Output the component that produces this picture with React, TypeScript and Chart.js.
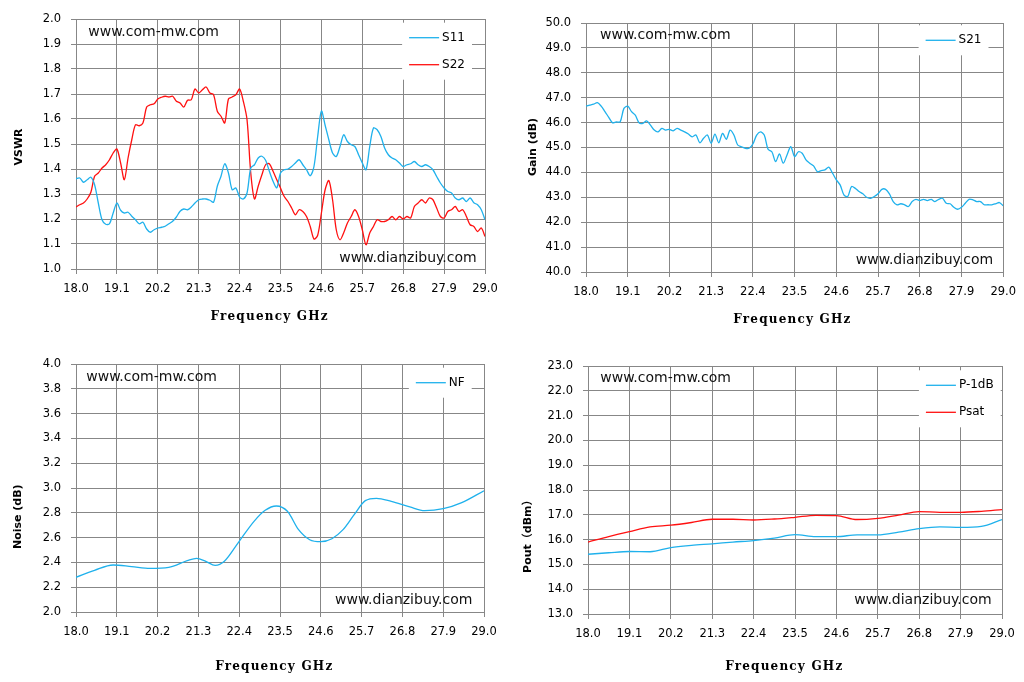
import { useEffect, useRef } from 'react'
import { Chart, registerables } from 'chart.js'

Chart.register(...registerables)

const BLUE = '#1fb1ec'
const RED = '#ff1010'
const GRID = '#878787'

const SITE_TOP = 'www.com-mw.com'
const SITE_BOTTOM = 'www.dianzibuy.com'
const X_TITLE = 'Frequency GHz'

// tick labels on every frequency axis
const freqTicks = [18.0, 19.1, 20.2, 21.3, 22.4, 23.5, 24.6, 25.7, 26.8, 27.9, 29.0]

// swept measurement frequencies (GHz)
const sweepFreq = [
  18.0, 18.1, 18.2, 18.3, 18.4, 18.5, 18.6, 18.7, 18.8, 18.9,
  19.0, 19.1, 19.2, 19.3, 19.4, 19.5, 19.6, 19.7, 19.8, 19.9,
  20.0, 20.1, 20.2, 20.3, 20.4, 20.5, 20.6, 20.7, 20.8, 20.9,
  21.0, 21.1, 21.2, 21.3, 21.4, 21.5, 21.6, 21.7, 21.8, 21.9,
  22.0, 22.1, 22.2, 22.3, 22.4, 22.5, 22.6, 22.7, 22.8, 22.9,
  23.0, 23.1, 23.2, 23.3, 23.4, 23.5, 23.6, 23.7, 23.8, 23.9,
  24.0, 24.1, 24.2, 24.3, 24.4, 24.5, 24.6, 24.7, 24.8, 24.9,
  25.0, 25.1, 25.2, 25.3, 25.4, 25.5, 25.6, 25.7, 25.8, 25.9,
  26.0, 26.1, 26.2, 26.3, 26.4, 26.5, 26.6, 26.7, 26.8, 26.9,
  27.0, 27.1, 27.2, 27.3, 27.4, 27.5, 27.6, 27.7, 27.8, 27.9,
  28.0, 28.1, 28.2, 28.3, 28.4, 28.5, 28.6, 28.7, 28.8, 28.9,
  29.0,
]

const s11 = [
  1.361, 1.364, 1.347, 1.357, 1.367, 1.337, 1.264, 1.197, 1.179, 1.181,
  1.224, 1.264, 1.235, 1.224, 1.227, 1.211, 1.197, 1.181, 1.187, 1.160,
  1.147, 1.157, 1.164, 1.167, 1.171, 1.181, 1.191, 1.208, 1.231, 1.240,
  1.237, 1.248, 1.264, 1.277, 1.280, 1.280, 1.275, 1.267, 1.331, 1.371,
  1.421, 1.384, 1.317, 1.324, 1.288, 1.280, 1.304, 1.404, 1.417, 1.444,
  1.451, 1.435, 1.391, 1.351, 1.325, 1.384, 1.397, 1.400, 1.410, 1.424,
  1.437, 1.417, 1.397, 1.373, 1.410, 1.530, 1.632, 1.575, 1.517, 1.464,
  1.450, 1.490, 1.537, 1.510, 1.497, 1.490, 1.457, 1.424, 1.397, 1.490,
  1.564, 1.557, 1.530, 1.484, 1.457, 1.444, 1.437, 1.424, 1.410, 1.417,
  1.421, 1.430, 1.417, 1.410, 1.417, 1.410, 1.397, 1.370, 1.344, 1.324,
  1.310, 1.304, 1.284, 1.277, 1.284, 1.270, 1.284, 1.265, 1.257, 1.237,
  1.197,
]

const s22 = [
  1.248, 1.257, 1.264, 1.280, 1.307, 1.371, 1.384, 1.404, 1.417, 1.437,
  1.464, 1.480, 1.424, 1.357, 1.444, 1.517, 1.577, 1.573, 1.584, 1.648,
  1.657, 1.661, 1.680, 1.687, 1.691, 1.688, 1.691, 1.671, 1.664, 1.648,
  1.675, 1.677, 1.720, 1.704, 1.717, 1.728, 1.704, 1.697, 1.631, 1.611,
  1.584, 1.680, 1.688, 1.697, 1.720, 1.671, 1.597, 1.384, 1.280, 1.331,
  1.377, 1.417, 1.421, 1.391, 1.357, 1.324, 1.290, 1.270, 1.244, 1.217,
  1.237, 1.230, 1.210, 1.170, 1.120, 1.135, 1.224, 1.317, 1.354, 1.277,
  1.157, 1.117, 1.145, 1.184, 1.210, 1.237, 1.210, 1.157, 1.097, 1.144,
  1.170, 1.197, 1.190, 1.190, 1.197, 1.210, 1.197, 1.210, 1.200, 1.210,
  1.204, 1.250, 1.264, 1.277, 1.264, 1.284, 1.277, 1.244, 1.210, 1.204,
  1.230, 1.237, 1.250, 1.230, 1.237, 1.210, 1.177, 1.170, 1.150, 1.164,
  1.130,
]

const s21 = [
  46.66, 46.70, 46.74, 46.80, 46.66, 46.44, 46.21, 45.99, 46.03, 46.03,
  46.57, 46.66, 46.44, 46.30, 45.99, 45.97, 46.07, 45.90, 45.70, 45.63,
  45.77, 45.70, 45.73, 45.67, 45.77, 45.70, 45.63, 45.54, 45.43, 45.50,
  45.19, 45.37, 45.50, 45.17, 45.54, 45.19, 45.57, 45.33, 45.70, 45.50,
  45.10, 45.03, 44.97, 44.97, 45.14, 45.50, 45.63, 45.50, 44.93, 44.83,
  44.43, 44.74, 44.37, 44.70, 45.03, 44.63, 44.83, 44.77, 44.50, 44.37,
  44.26, 44.03, 44.07, 44.10, 44.21, 43.97, 43.70, 43.50, 43.10, 43.03,
  43.43, 43.36, 43.23, 43.14, 43.00, 42.96, 43.03, 43.14, 43.32, 43.32,
  43.14, 42.83, 42.70, 42.74, 42.70, 42.63, 42.83, 42.92, 42.87, 42.92,
  42.87, 42.92, 42.83, 42.92, 42.96, 42.76, 42.74, 42.60, 42.52, 42.60,
  42.76, 42.92, 42.90, 42.83, 42.83, 42.70, 42.70, 42.70, 42.74, 42.79,
  42.66,
]

const nfFreq = [
  18.0, 18.5, 19.0, 19.5, 20.0, 20.5, 21.0, 21.25, 21.5, 21.75,
  22.0, 22.4, 22.8, 23.1, 23.4, 23.7, 24.0, 24.3, 24.6, 24.9,
  25.2, 25.5, 25.8, 26.1, 26.5, 27.0, 27.4, 27.9, 28.4, 29.0,
]
const nf = [
  2.28, 2.336, 2.379, 2.366, 2.352, 2.36, 2.414, 2.433, 2.409, 2.376,
  2.409, 2.57, 2.731, 2.82, 2.855, 2.812, 2.664, 2.583, 2.567, 2.591,
  2.664, 2.785, 2.898, 2.917, 2.892, 2.847, 2.817, 2.833, 2.882, 2.978,
]

const powerFreq = [
  18.0, 18.55, 19.1, 19.65, 20.2, 20.75, 21.3, 21.85, 22.4, 22.95,
  23.5, 24.05, 24.6, 25.15, 25.7, 26.25, 26.8, 27.35, 27.9, 28.45,
  29.0,
]
const p1dB = [
  15.41, 15.47, 15.52, 15.51, 15.68, 15.77, 15.83, 15.9, 15.96, 16.06,
  16.2, 16.12, 16.12, 16.19, 16.19, 16.3, 16.44, 16.51, 16.49, 16.53,
  16.81,
]
const psat = [
  15.9, 16.12, 16.32, 16.51, 16.58, 16.69, 16.82, 16.82, 16.79, 16.83,
  16.9, 16.98, 16.97, 16.81, 16.86, 16.99, 17.13, 17.1, 17.1, 17.14,
  17.21,
]

const toPoints = (xs: number[], ys: number[]) => xs.map((x, i) => ({ x, y: ys[i] }))

const decorPlugin = {
  id: 'decor',
  afterDraw(chart: any, _args: any, opts: any) {
    const { ctx, chartArea: a } = chart
    ctx.save()

    ctx.font = '14px "DejaVu Sans"'
    ctx.fillStyle = '#111'
    ctx.textBaseline = 'middle'
    ctx.textAlign = 'left'
    ctx.fillText(SITE_TOP, a.left + opts.markTop[0], a.top + opts.markTop[1])
    ctx.textAlign = 'right'
    ctx.fillText(SITE_BOTTOM, a.right + opts.markBottom[0], a.bottom + opts.markBottom[1])

    // legend box inside the plot, top right
    ctx.font = '12px "DejaVu Sans"'
    const sets = chart.data.datasets
    const textW = Math.max(...sets.map((d: any) => ctx.measureText(d.label).width))
    const w = 47 + textW
    const h = 30 + (sets.length - 1) * 27
    const bx = a.right - opts.legend[0] - w
    const by = a.top + opts.legend[1]
    ctx.fillStyle = '#fff'
    ctx.fillRect(bx, by, w, h)
    ctx.textAlign = 'left'
    sets.forEach((d: any, i: number) => {
      const y = by + 15 + i * 27
      ctx.strokeStyle = d.borderColor
      ctx.lineWidth = d.borderWidth
      ctx.beginPath()
      ctx.moveTo(bx + 7, y)
      ctx.lineTo(bx + 37, y)
      ctx.stroke()
      ctx.fillStyle = '#000'
      ctx.fillText(d.label, bx + 40, y)
    })

    // axis titles
    ctx.fillStyle = '#000'
    ctx.font = 'bold 11px "DejaVu Sans", "Noto Sans CJK SC"'
    ctx.textAlign = 'center'
    ctx.save()
    ctx.translate(opts.yTitle[0], opts.yTitle[1])
    ctx.rotate(-Math.PI / 2)
    ctx.fillText(opts.yText, 0, 0)
    ctx.restore()

    ctx.font = 'bold 12px "DejaVu Serif"'
    ctx.textAlign = 'left'
    ctx.letterSpacing = '0px'
    const w0 = ctx.measureText(X_TITLE).width
    ctx.letterSpacing = ((117 - w0) / (X_TITLE.length - 1)).toFixed(2) + 'px'
    ctx.fillText(X_TITLE, opts.xTitle[0] - 58.5, opts.xTitle[1])
    ctx.restore()
  },
}

const tickFont = { family: 'DejaVu Sans', size: 11.5 }

function makeConfig(spec: any) {
  return {
    type: 'line',
    data: { datasets: spec.datasets },
    plugins: [decorPlugin],
    options: {
      responsive: false,
      animation: false,
      layout: { padding: { left: 0, top: spec.pad[0], right: spec.pad[1], bottom: 0 } },
      elements: { point: { radius: 0 } },
      plugins: {
        legend: { display: false },
        tooltip: { enabled: false },
        decor: {
          yText: spec.yText,
          yTitle: spec.yTitle,
          xTitle: spec.xTitle,
          markTop: spec.markTop,
          markBottom: spec.markBottom,
          legend: spec.legend,
        },
      },
      scales: {
        x: {
          type: 'linear',
          min: 18,
          max: 29,
          afterBuildTicks: (s: any) => {
            s.ticks = freqTicks.map((v) => ({ value: v }))
          },
          afterFit: (s: any) => {
            s.height = spec.xHeight
          },
          ticks: {
            callback: (v: any) => Number(v).toFixed(1),
            font: tickFont,
            color: '#000',
            padding: 8,
            maxRotation: 0,
            autoSkip: false,
          },
          grid: { color: GRID, lineWidth: 1, tickLength: 5 },
          border: { color: GRID },
        },
        y: {
          min: spec.yMin,
          max: spec.yMax,
          afterFit: (s: any) => {
            s.width = spec.yWidth
          },
          ticks: {
            stepSize: spec.yStep,
            callback: (v: any) => Number(v).toFixed(1),
            font: tickFont,
            color: '#000',
            padding: 10,
          },
          grid: { color: GRID, lineWidth: 1, tickLength: 5 },
          border: { color: GRID },
        },
      },
    },
  }
}

const line = (label: string, xs: number[], ys: number[], color: string, tension: number, mono = false) => ({
  label,
  data: toPoints(xs, ys),
  borderColor: color,
  borderWidth: 1.3,
  pointRadius: 0,
  fill: false,
  tension,
  cubicInterpolationMode: mono ? 'monotone' : 'default',
})

const panels = [
  {
    left: 0, top: 0, pad: [19, 27], yWidth: 76, xHeight: 72,
    yMin: 1.0, yMax: 2.0, yStep: 0.1, yText: 'VSWR',
    yTitle: [19, 147], xTitle: [269, 317],
    markTop: [12.3, 13], markBottom: [-8.3, -11], legend: [13, 3.7],
    datasets: [line('S11', sweepFreq, s11, BLUE, 0.3), line('S22', sweepFreq, s22, RED, 0.3)],
  },
  {
    left: 512, top: 0, pad: [23, 20], yWidth: 74, xHeight: 69,
    yMin: 40, yMax: 50, yStep: 1, yText: 'Gain (dB)',
    yTitle: [20.7, 147], xTitle: [279.8, 320.3],
    markTop: [14, 12.3], markBottom: [-10, -11.3], legend: [14.7, 2.3],
    datasets: [line('S21', sweepFreq, s21, BLUE, 0.3)],
  },
  {
    left: 0, top: 341, pad: [23, 28], yWidth: 76, xHeight: 70,
    yMin: 2.0, yMax: 4.0, yStep: 0.2, yText: 'Noise (dB)',
    yTitle: [18.3, 175.7], xTitle: [273.7, 325.5],
    markTop: [10.3, 13], markBottom: [-11.6, -11.3], legend: [12.3, 3.7],
    datasets: [line('NF', nfFreq, nf, BLUE, 0.4, true)],
  },
  {
    left: 512, top: 341, pad: [25, 22], yWidth: 76, xHeight: 68,
    yMin: 13, yMax: 23, yStep: 1, yText: 'Pout（dBm）',
    yTitle: [16, 192.7], xTitle: [271.7, 325.5],
    markTop: [12.3, 12.6], markBottom: [-10.3, -13.3], legend: [1.3, 4.3],
    datasets: [line('P-1dB', powerFreq, p1dB, BLUE, 0.4, true), line('Psat', powerFreq, psat, RED, 0.4, true)],
  },
]

function Panel({ spec }: { spec: any }) {
  const canvasRef = useRef<HTMLCanvasElement>(null)

  useEffect(() => {
    const chart = new Chart(canvasRef.current as HTMLCanvasElement, makeConfig(spec) as any)
    return () => chart.destroy()
  }, [spec])

  return (
    <canvas
      ref={canvasRef}
      width={512}
      height={341}
      style={{ position: 'absolute', left: spec.left, top: spec.top }}
    />
  )
}

export default function App() {
  return (
    <div style={{ position: 'fixed', left: 0, top: 0, width: 1024, height: 682, background: '#fff' }}>
      {panels.map((p, i) => (
        <Panel key={i} spec={p} />
      ))}
    </div>
  )
}
